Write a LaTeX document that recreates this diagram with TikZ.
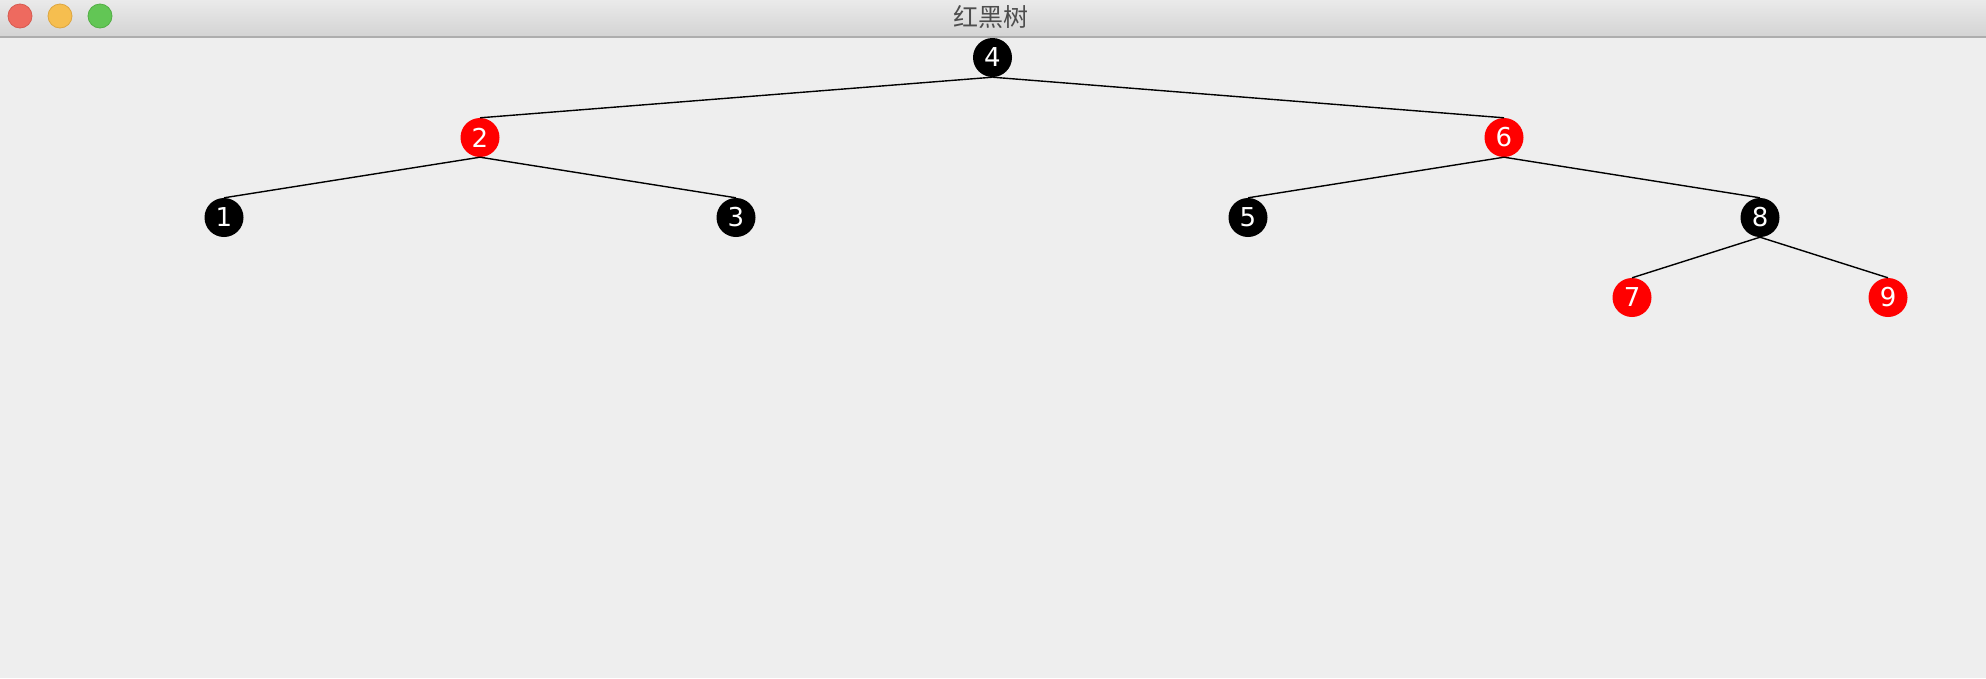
\documentclass[tikz,border=0pt]{standalone}
\usepackage{fontspec}
\setmainfont{DejaVu Sans}
\newfontfamily\cjk{Noto Sans CJK SC}
\definecolor{bg}{HTML}{EEEEEE}
\definecolor{bartop}{HTML}{EAEAEA}
\definecolor{barbot}{HTML}{D3D3D3}
\definecolor{barline}{HTML}{ADADAD}
\definecolor{tlred}{HTML}{EE6A5F}
\definecolor{tlredb}{HTML}{D65A50}
\definecolor{tlyel}{HTML}{F6BE4F}
\definecolor{tlyelb}{HTML}{DDA640}
\definecolor{tlgrn}{HTML}{62C655}
\definecolor{tlgrnb}{HTML}{52AE45}
\definecolor{titlegray}{HTML}{4D4D4D}
\tikzset{
  rbnode/.style={circle, minimum size=39pt, inner sep=0pt, text=white,
    font=\fontsize{26}{26}\selectfont},
  blk/.style={rbnode, fill=black},
  rd/.style={rbnode, fill=red},
  treeedge/.style={line width=1.4pt, black},
  light/.style={circle, minimum size=24pt, inner sep=0pt, line width=0.8pt}
}
\begin{document}
\begin{tikzpicture}[x=1pt,y=-1pt]
\useasboundingbox (0,0) rectangle (1986,678);
\fill[bg] (0,0) rectangle (1986,678);
\shade[top color=bartop, bottom color=barbot] (0,0) rectangle (1986,37);
\draw[barline, line width=1.2pt] (0,37) -- (1986,37);
\node[light, fill=tlred, draw=tlredb] (tl1) at (20,16) {};
\node[light, fill=tlyel, draw=tlyelb] (tl2) at (60,16) {};
\node[light, fill=tlgrn, draw=tlgrnb] (tl3) at (100,16) {};
\node[text=titlegray, font=\cjk\fontsize{25}{25}\selectfont] (title) at (991,17) {红黑树};

\node[blk] (n4) at (992.5,57.5) {4};
\node[rd]  (n2) at (480,137.5) {2};
\node[rd]  (n6) at (1504,137.5) {6};
\node[blk] (n1) at (224,217.5) {1};
\node[blk] (n3) at (736,217.5) {3};
\node[blk] (n5) at (1248,217.5) {5};
\node[blk] (n8) at (1760,217.5) {8};
\node[rd]  (n7) at (1632,297.5) {7};
\node[rd]  (n9) at (1888,297.5) {9};

\draw[treeedge] (n4.south) -- (n2.north);
\draw[treeedge] (n4.south) -- (n6.north);
\draw[treeedge] (n2.south) -- (n1.north);
\draw[treeedge] (n2.south) -- (n3.north);
\draw[treeedge] (n6.south) -- (n5.north);
\draw[treeedge] (n6.south) -- (n8.north);
\draw[treeedge] (n8.south) -- (n7.north);
\draw[treeedge] (n8.south) -- (n9.north);
\end{tikzpicture}
\end{document}
